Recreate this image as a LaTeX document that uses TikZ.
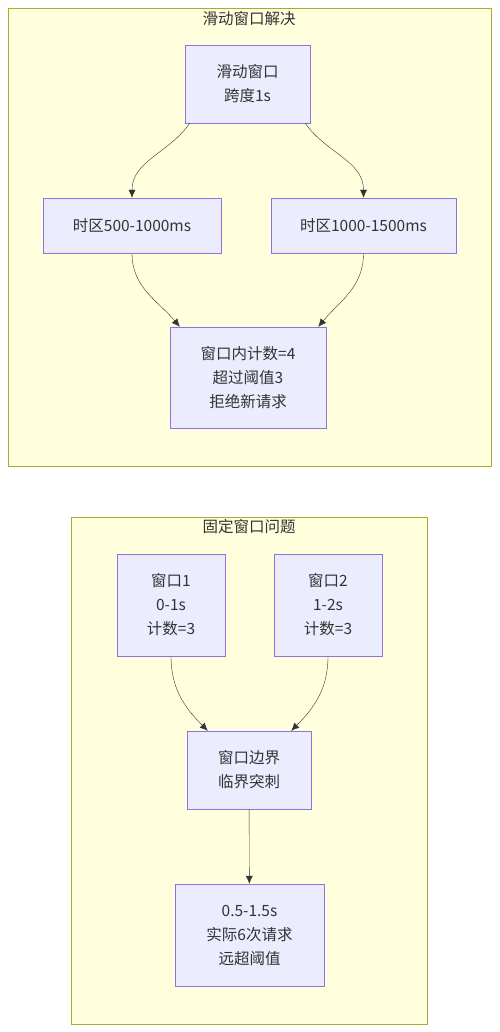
\documentclass[tikz,border=0pt]{standalone}
\usepackage{fontspec}
\setmainfont{Noto Sans CJK SC}
\usetikzlibrary{arrows.meta}
\definecolor{clusterfill}{HTML}{FFFFDE}
\definecolor{clusterline}{HTML}{AAAA33}
\definecolor{boxfill}{HTML}{ECECFF}
\definecolor{boxline}{HTML}{9370DB}
\definecolor{edgeline}{HTML}{333333}
\begin{document}
\begin{tikzpicture}[x=1pt,y=-1pt,
  box/.style={draw=boxline,fill=boxfill,inner sep=0pt,align=center,text=edgeline,
    font=\fontsize{15.5}{24}\selectfont},
  edge/.style={draw=edgeline,-{Latex[length=8pt,width=7pt]}},
  title/.style={text=edgeline,font=\fontsize{15.5}{17}\selectfont}]
\useasboundingbox (0,0) rectangle (499,1032);
% sliding window
\draw[clusterline,fill=clusterfill] (8,8) rectangle (491,466);
\node[title] (slidetitle) at (249,19) {滑动窗口解决};
\node[box,minimum width=125pt,minimum height=78pt] (span) at (247.5,84) {滑动窗口\\跨度1s};
\node[box,minimum width=178pt,minimum height=55pt] (zoneA) at (132,225.5) {时区500-1000ms};
\node[box,minimum width=185pt,minimum height=55pt] (zoneB) at (363.5,225.5) {时区1000-1500ms};
\node[box,minimum width=156pt,minimum height=101pt] (reject) at (248,377.5) {窗口内计数=4\\超过阈值3\\拒绝新请求};
\draw[edge] ([xshift=5pt]span.south west) to[out=-125,in=90] (zoneA.north);
\draw[edge] ([xshift=-5pt]span.south east) to[out=-55,in=90] (zoneB.north);
\draw[edge] (zoneA.south) to[out=-90,in=130] ([xshift=10pt]reject.north west);
\draw[edge] (zoneB.south) to[out=-90,in=50] ([xshift=-8pt]reject.north east);
% fixed window
\draw[clusterline,fill=clusterfill] (71,517) rectangle (427,1024);
\node[title] (fixtitle) at (249,527) {固定窗口问题};
\node[box,minimum width=108pt,minimum height=102pt] (win1) at (171,605) {窗口1\\0-1s\\计数=3};
\node[box,minimum width=108pt,minimum height=102pt] (win2) at (328,605) {窗口2\\1-2s\\计数=3};
\node[box,minimum width=124pt,minimum height=78pt] (edgebox) at (249,770) {窗口边界\\临界突刺};
\node[box,minimum width=149pt,minimum height=102pt] (burst) at (249.5,935) {0.5-1.5s\\实际6次请求\\远超阈值};
\draw[edge] (win1.south) to[out=-90,in=135] ([xshift=21pt]edgebox.north west);
\draw[edge] (win2.south) to[out=-90,in=45] ([xshift=-20pt]edgebox.north east);
\draw[edge] (edgebox) -- (burst);
\end{tikzpicture}
\end{document}
